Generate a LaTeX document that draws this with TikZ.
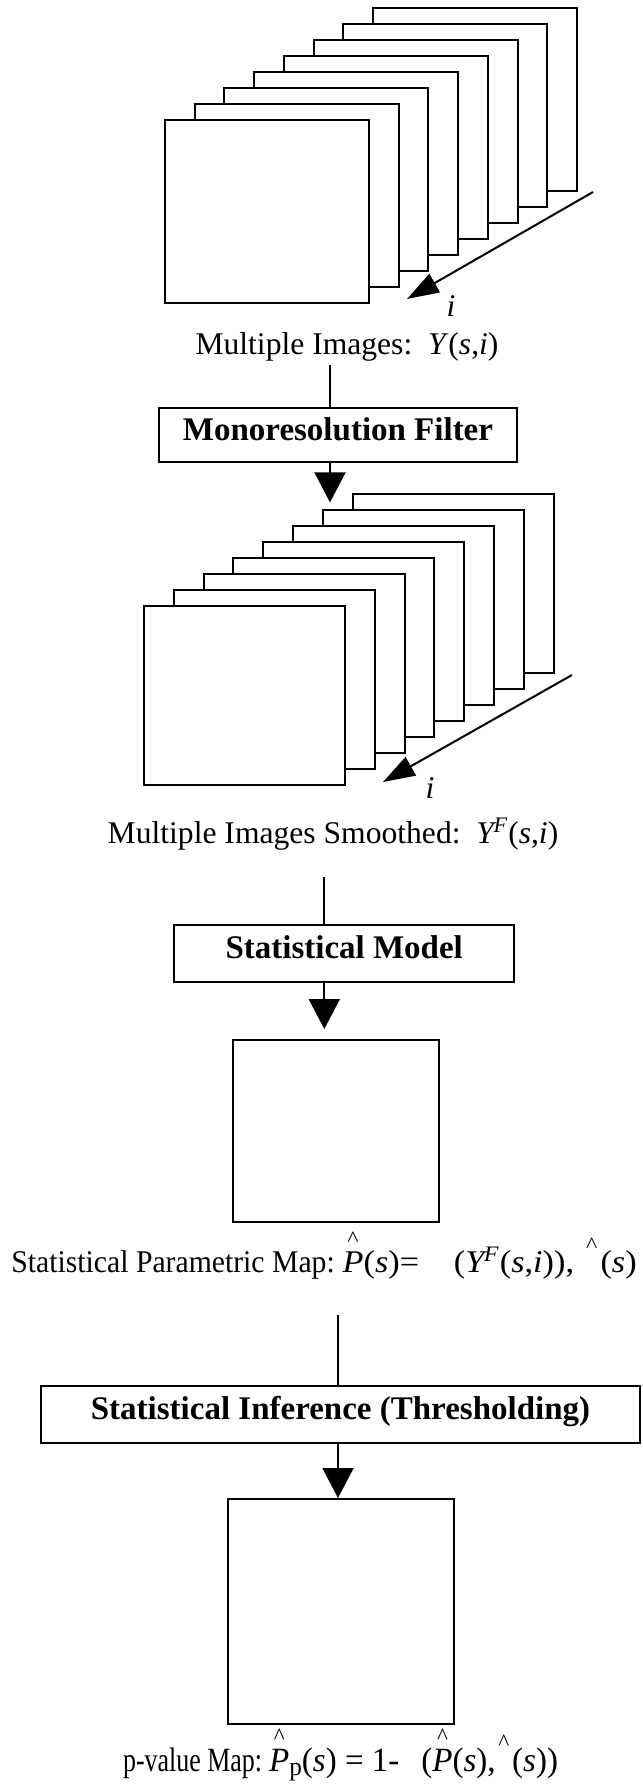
\documentclass[tikz,border=0pt]{standalone}
\usepackage{graphicx}
\usepackage{fontspec}
\setmainfont{Liberation Serif}
\usetikzlibrary{arrows.meta,positioning,calc}
\frenchspacing

% small caret set over a symbol (optional raise of the caret)
\newcommand{\hatted}[2][0.81em]{\ooalign{#2\cr\hidewidth\raisebox{#1}{\scalebox{0.7}{\textasciicircum}}\hidewidth\cr}}
\newcommand{\YF}{\textit{Y}\kern-0.1em\textsuperscript{\textit{F}}}

\begin{document}
\begin{tikzpicture}[
    x=0.5pt, y=-0.5pt,
    >={Triangle[width=15.5pt,length=15pt]},
    slide/.style={draw, fill=white, line width=1pt, inner sep=0pt, anchor=north west},
    stage/.style={draw, line width=1pt, inner sep=0pt, font=\fontsize{16.5pt}{20pt}\selectfont\bfseries, text height=11.2pt, text depth=5.8pt},
    mapbox/.style={draw, line width=1pt, inner sep=0pt},
    caption/.style={inner sep=0pt, anchor=base, font=\fontsize{15.8pt}{19pt}\selectfont},
    formula/.style={caption, anchor=base west, font=\fontsize{#1}{20pt}\selectfont},
    wire/.style={line width=1pt},
    axis/.style={line width=1pt, -{Triangle[width=10.5pt,length=16pt]}},
]
\useasboundingbox (0,0) rectangle (643,1785);
\fill[white] (0,0) rectangle (643,1785);

% --- First image stack ---
\foreach \k in {7,6,...,0}
  \node[slide, minimum width=102pt, minimum height=91.5pt] (a\k) at ({164+29.7*\k},{119-16*\k}) {};
\coordinate (a-from) at (593,192);
\coordinate (a-to) at (407,299);
\draw[axis] (a-from) -- (a-to);
\node[caption] (ai) at (451,316) {\textit{i}};
\node[caption] (lab1) at (347,354) {Multiple Images:\ \ \textit{Y}(\textit{s},\textit{i})};

% --- Filter ---
\node[stage, minimum width=179pt, minimum height=27pt] (mono) at (338,435) {Monoresolution Filter};

% --- Smoothed image stack ---
\foreach \k in {7,6,...,0}
  \node[slide, minimum width=100.5pt, minimum height=89.5pt] (b\k) at ({142.7+29.9*\k},{605-15.95*\k}) {};
\coordinate (b-from) at (572,675);
\coordinate (b-to) at (383,782);
\draw[axis] (b-from) -- (b-to);
\node[caption] (bi) at (430,798) {\textit{i}};
\node[caption] (lab2) at (333,843) {Multiple Images Smoothed:\ \ \YF(\textit{s},\textit{i})};

% --- Model and parametric map ---
\node[stage, minimum width=169.8pt, minimum height=28.5pt] (model) at (344.2,953.5) {Statistical Model};
\node[mapbox, minimum width=103pt, minimum height=91pt] (spm) at (336.4,1131) {};
\node[formula=15.8pt] (lab3) at (11,1272) {\scalebox{0.94}[1]{Statistical Parametric Map:}\ %
  \scalebox{1.085}[1]{\hatted{\textit{P}}(\textit{s})=\ \hspace{0.763em}(\YF(\textit{s},\textit{i})), \hatted[0.62em]{\hspace{0.52em}}(\textit{s})}};

% --- Inference and p-value map ---
\node[stage, minimum width=299.5pt, minimum height=28.5pt] (infer) at (340.5,1414.5) {Statistical Inference (Thresholding)};
\node[mapbox, minimum width=113pt, minimum height=112.5pt] (pval) at (341,1611.5) {};
\node[formula=17pt] (lab4) at (122.7,1771.7) {\scalebox{0.763}[1]{p-value Map:}\hspace{3.5pt}%
  \scalebox{0.972}[1]{\hatted{\textit{P}}\raisebox{-0.12em}{\fontsize{13pt}{14pt}\selectfont p}(\textit{s}) = 1-\hspace{0.66em}(\hatted{\textit{P}}(\textit{s}),\hatted[0.62em]{\hspace{0.5em}}(\textit{s}))}};

% --- Connectors ---
\coordinate (j1) at (330,365);
\draw[wire] (j1) -- (j1 |- mono.north);
\draw[wire, ->] (mono.south -| j1) -- ([yshift=3.5pt]j1 |- b6.north);
\coordinate (j2) at (324.3,877);
\draw[wire] (j2) -- (j2 |- model.north);
\draw[wire, ->] (model.south -| j2) -- ([yshift=5pt]j2 |- spm.north);
\coordinate (j3) at (338,1315);
\draw[wire] (j3) -- (j3 |- infer.north);
\draw[wire, ->] (infer.south -| j3) -- (j3 |- pval.north);

\end{tikzpicture}
\end{document}
